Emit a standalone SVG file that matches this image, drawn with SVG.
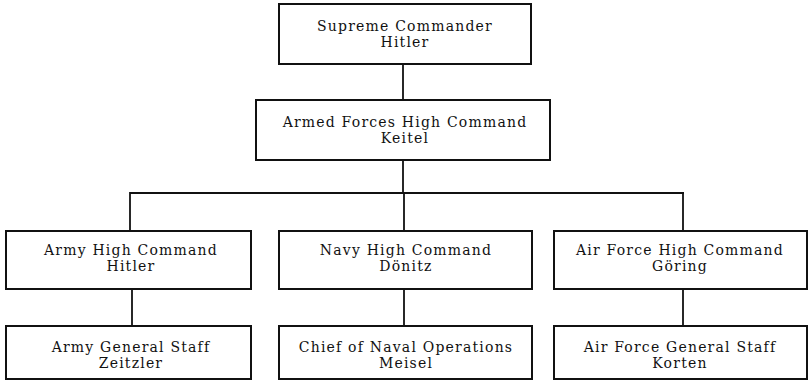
<svg xmlns="http://www.w3.org/2000/svg" width="810" height="390" viewBox="0 0 810 390">
<style>
.box{fill:#fff;stroke:#111;stroke-width:2}
.t{font-family:"DejaVu Serif","Liberation Serif",serif;font-size:14px;letter-spacing:1.2px;fill:#111;text-anchor:middle}
.c{stroke:#111;stroke-width:1.8;fill:none}
</style>
<rect width="810" height="390" fill="#fff"/>
<g id="connectors">
<line class="c" x1="403" y1="64" x2="403" y2="100"/>
<line class="c" x1="403" y1="160" x2="403" y2="193"/>
<line class="c" x1="130" y1="193" x2="684" y2="193"/>
<line class="c" x1="130" y1="192" x2="130" y2="231"/>
<line class="c" x1="404" y1="193" x2="404" y2="231"/>
<line class="c" x1="683" y1="192" x2="683" y2="231"/>
<line class="c" x1="132" y1="289" x2="132" y2="326"/>
<line class="c" x1="404" y1="289" x2="404" y2="326"/>
<line class="c" x1="683" y1="289" x2="683" y2="326"/>
</g>
<g id="supreme">
<rect class="box" x="279" y="4" width="252" height="60"/>
<text class="t" x="405" y="31">Supreme Commander</text>
<text class="t" x="405" y="47">Hitler</text>
</g>
<g id="okw">
<rect class="box" x="256" y="100" width="294" height="60"/>
<text class="t" x="405" y="127">Armed Forces High Command</text>
<text class="t" x="405" y="143">Keitel</text>
</g>
<g id="army">
<rect class="box" x="6" y="231" width="245" height="58"/>
<text class="t" x="131" y="255">Army High Command</text>
<text class="t" x="131" y="271">Hitler</text>
</g>
<g id="navy">
<rect class="box" x="279" y="231" width="253" height="58"/>
<text class="t" x="406" y="255">Navy High Command</text>
<text class="t" x="406" y="271">Dönitz</text>
</g>
<g id="airforce">
<rect class="box" x="554" y="231" width="253" height="58"/>
<text class="t" x="680" y="255">Air Force High Command</text>
<text class="t" x="680" y="271">Göring</text>
</g>
<g id="army-staff">
<rect class="box" x="6" y="326" width="245" height="53"/>
<text class="t" x="131" y="352">Army General Staff</text>
<text class="t" x="131" y="368">Zeitzler</text>
</g>
<g id="naval-ops">
<rect class="box" x="279" y="326" width="253" height="53"/>
<text class="t" x="406" y="352">Chief of Naval Operations</text>
<text class="t" x="406" y="368">Meisel</text>
</g>
<g id="air-staff">
<rect class="box" x="554" y="326" width="253" height="53"/>
<text class="t" x="680" y="352">Air Force General Staff</text>
<text class="t" x="680" y="368">Korten</text>
</g>
</svg>
